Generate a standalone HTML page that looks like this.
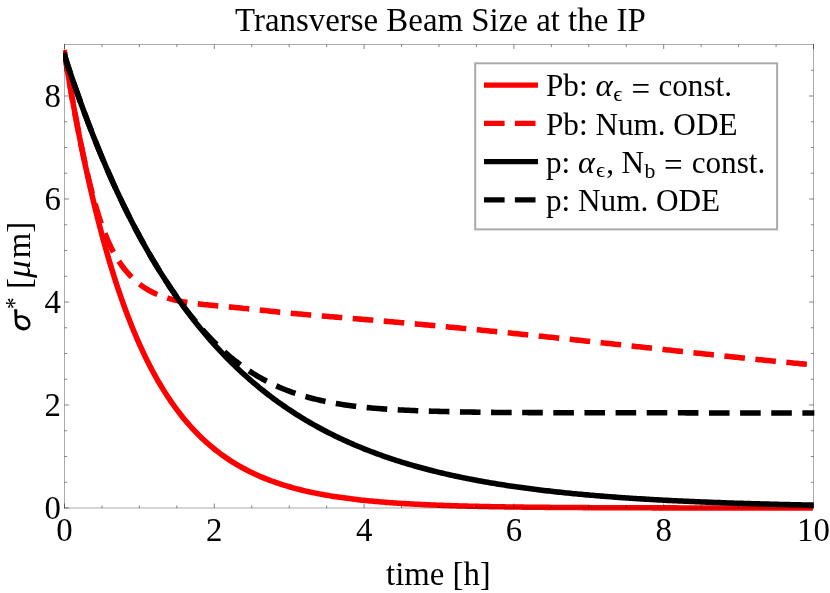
<!DOCTYPE html>
<html><head><meta charset="utf-8"><title>Transverse Beam Size at the IP</title>
<style>
html,body{margin:0;padding:0;background:#fff;}
body{width:830px;height:593px;overflow:hidden;font-family:"Liberation Serif",serif;}
svg{display:block;will-change:transform;}
text{font-family:"Liberation Serif",serif;fill:#000;}
</style></head><body>
<svg width="830" height="593" viewBox="0 0 830 593">
<rect x="0" y="0" width="830" height="593" fill="#fff"/>
<defs><clipPath id="pc"><rect x="63.1" y="40" width="751.6" height="475"/></clipPath></defs>
<!-- curves -->
<g fill="none" stroke-width="5.55" stroke-linejoin="round" clip-path="url(#pc)">
<path d="M64.05,50.07 L64.50,52.81 L66.37,64.29 L68.25,75.48 L70.12,86.38 L71.99,97.01 L73.86,107.37 L75.73,117.48 L77.61,127.32 L79.48,136.92 L81.35,146.28 L83.22,155.40 L85.10,164.29 L86.97,172.95 L88.84,181.40 L90.72,189.63 L92.59,197.66 L94.46,205.49 L96.33,213.11 L98.21,220.55 L100.08,227.80 L101.95,234.86 L103.82,241.75 L105.70,248.46 L107.57,255.00 L109.44,261.38 L111.31,267.60 L113.19,273.66 L115.06,279.57 L116.93,285.33 L118.80,290.94 L120.68,296.42 L122.55,301.75 L124.42,306.95 L126.29,312.02 L128.17,316.96 L130.04,321.78 L131.91,326.47 L133.78,331.05 L135.66,335.51 L137.53,339.86 L139.40,344.10 L141.27,348.23 L143.15,352.26 L145.02,356.19 L146.89,360.01 L148.76,363.75 L150.64,367.38 L152.51,370.93 L154.38,374.38 L156.25,377.75 L158.12,381.04 L160.00,384.24 L161.87,387.36 L163.74,390.40 L165.62,393.37 L167.49,396.26 L169.36,399.07 L171.23,401.82 L173.11,404.50 L174.98,407.11 L176.85,409.65 L178.72,412.13 L180.60,414.55 L182.47,416.90 L184.34,419.20 L186.21,421.44 L188.09,423.62 L189.96,425.75 L191.83,427.82 L193.70,429.84 L195.58,431.81 L197.45,433.74 L199.32,435.61 L201.19,437.43 L203.07,439.21 L204.94,440.95 L206.81,442.64 L208.68,444.29 L210.56,445.89 L212.43,447.46 L214.30,448.98 L216.17,450.47 L218.05,451.92 L219.92,453.34 L221.79,454.71 L223.66,456.06 L225.53,457.37 L227.41,458.64 L229.28,459.89 L231.15,461.10 L233.03,462.28 L234.90,463.44 L236.77,464.56 L238.64,465.66 L240.52,466.72 L242.39,467.76 L244.26,468.78 L246.13,469.77 L248.01,470.73 L249.88,471.67 L251.75,472.59 L253.62,473.48 L255.50,474.35 L257.37,475.20 L259.24,476.03 L261.11,476.83 L262.99,477.62 L264.86,478.38 L266.73,479.13 L268.60,479.86 L270.48,480.57 L272.35,481.26 L274.22,481.93 L276.09,482.59 L277.97,483.23 L279.84,483.86 L281.71,484.46 L283.58,485.06 L285.46,485.64 L287.33,486.20 L289.20,486.75 L291.07,487.29 L292.95,487.81 L294.82,488.32 L296.69,488.81 L298.56,489.30 L300.44,489.77 L302.31,490.23 L304.18,490.68 L306.05,491.11 L307.93,491.54 L309.80,491.95 L311.67,492.36 L313.54,492.75 L315.42,493.14 L317.29,493.51 L319.16,493.88 L321.03,494.23 L322.91,494.58 L324.78,494.92 L326.65,495.25 L328.52,495.57 L330.40,495.88 L332.27,496.19 L334.14,496.49 L336.01,496.78 L337.89,497.06 L339.76,497.34 L341.63,497.60 L343.50,497.87 L345.38,498.12 L347.25,498.37 L349.12,498.61 L350.99,498.85 L352.87,499.08 L354.74,499.31 L356.61,499.53 L358.48,499.74 L360.36,499.95 L362.23,500.15 L364.10,500.35 L365.97,500.54 L367.85,500.73 L369.72,500.91 L371.59,501.09 L373.46,501.27 L375.34,501.44 L377.21,501.60 L379.08,501.76 L380.95,501.92 L382.83,502.07 L384.70,502.22 L386.57,502.37 L388.44,502.51 L390.32,502.65 L392.19,502.78 L394.06,502.91 L395.93,503.04 L397.81,503.17 L399.68,503.29 L401.55,503.41 L403.42,503.52 L405.30,503.64 L407.17,503.75 L409.04,503.85 L410.91,503.96 L412.79,504.06 L414.66,504.16 L416.53,504.26 L418.40,504.35 L420.28,504.44 L422.15,504.53 L424.02,504.62 L425.89,504.71 L427.77,504.79 L429.64,504.87 L431.51,504.95 L433.38,505.03 L435.26,505.10 L437.13,505.17 L439.00,505.24 L440.87,505.31 L442.75,505.38 L444.62,505.45 L446.49,505.51 L448.36,505.58 L450.24,505.64 L452.11,505.70 L453.98,505.75 L455.85,505.81 L457.73,505.87 L459.60,505.92 L461.47,505.97 L463.34,506.02 L465.22,506.07 L467.09,506.12 L468.96,506.17 L470.83,506.22 L472.71,506.26 L474.58,506.30 L476.45,506.35 L478.32,506.39 L480.20,506.43 L482.07,506.47 L483.94,506.51 L485.81,506.54 L487.69,506.58 L489.56,506.62 L491.43,506.65 L493.30,506.69 L495.18,506.72 L497.05,506.75 L498.92,506.78 L500.79,506.81 L502.67,506.84 L504.54,506.87 L506.41,506.90 L508.28,506.93 L510.16,506.96 L512.03,506.98 L513.90,507.01 L515.77,507.03 L517.65,507.06 L519.52,507.08 L521.39,507.10 L523.26,507.13 L525.13,507.15 L527.01,507.17 L528.88,507.19 L530.75,507.21 L532.62,507.23 L534.50,507.25 L536.37,507.27 L538.24,507.29 L540.12,507.31 L541.99,507.32 L543.86,507.34 L545.73,507.36 L547.61,507.37 L549.48,507.39 L551.35,507.40 L553.22,507.42 L555.10,507.43 L556.97,507.45 L558.84,507.46 L560.71,507.48 L562.59,507.49 L564.46,507.50 L566.33,507.51 L568.20,507.53 L570.08,507.54 L571.95,507.55 L573.82,507.56 L575.69,507.57 L577.57,507.58 L579.44,507.59 L581.31,507.60 L583.18,507.61 L585.06,507.62 L586.93,507.63 L588.80,507.64 L590.67,507.65 L592.55,507.66 L594.42,507.67 L596.29,507.68 L598.16,507.69 L600.04,507.69 L601.91,507.70 L603.78,507.71 L605.65,507.72 L607.53,507.72 L609.40,507.73 L611.27,507.74 L613.14,507.74 L615.02,507.75 L616.89,507.76 L618.76,507.76 L620.63,507.77 L622.51,507.77 L624.38,507.78 L626.25,507.79 L628.12,507.79 L630.00,507.80 L631.87,507.80 L633.74,507.81 L635.61,507.81 L637.49,507.82 L639.36,507.82 L641.23,507.83 L643.10,507.83 L644.98,507.83 L646.85,507.84 L648.72,507.84 L650.59,507.85 L652.47,507.85 L654.34,507.85 L656.21,507.86 L658.08,507.86 L659.96,507.86 L661.83,507.87 L663.70,507.87 L665.57,507.87 L667.45,507.88 L669.32,507.88 L671.19,507.88 L673.06,507.89 L674.94,507.89 L676.81,507.89 L678.68,507.90 L680.55,507.90 L682.43,507.90 L684.30,507.90 L686.17,507.91 L688.04,507.91 L689.92,507.91 L691.79,507.91 L693.66,507.91 L695.53,507.92 L697.41,507.92 L699.28,507.92 L701.15,507.92 L703.02,507.92 L704.90,507.93 L706.77,507.93 L708.64,507.93 L710.51,507.93 L712.39,507.93 L714.26,507.94 L716.13,507.94 L718.00,507.94 L719.88,507.94 L721.75,507.94 L723.62,507.94 L725.49,507.94 L727.37,507.95 L729.24,507.95 L731.11,507.95 L732.98,507.95 L734.86,507.95 L736.73,507.95 L738.60,507.95 L740.47,507.95 L742.35,507.96 L744.22,507.96 L746.09,507.96 L747.96,507.96 L749.84,507.96 L751.71,507.96 L753.58,507.96 L755.45,507.96 L757.33,507.96 L759.20,507.97 L761.07,507.97 L762.94,507.97 L764.82,507.97 L766.69,507.97 L768.56,507.97 L770.43,507.97 L772.31,507.97 L774.18,507.97 L776.05,507.97 L777.92,507.97 L779.80,507.97 L781.67,507.97 L783.54,507.97 L785.41,507.98 L787.29,507.98 L789.16,507.98 L791.03,507.98 L792.90,507.98 L794.78,507.98 L796.65,507.98 L798.52,507.98 L800.39,507.98 L802.27,507.98 L804.14,507.98 L806.01,507.98 L807.88,507.98 L809.76,507.98 L811.63,507.98 L812.90,507.98" stroke="#ff0000"/>
<path d="M64.05,50.07 L64.50,52.81 L66.37,64.26 L68.25,75.44 L70.12,86.35 L71.99,97.00 L73.86,107.37 L75.73,117.48 L77.61,127.31 L79.48,136.85 L81.35,146.09 L83.22,155.03 L85.10,163.66 L86.97,171.96 L88.84,179.92 L90.72,187.52 L92.59,194.74 L94.46,201.60 L96.33,208.09 L98.21,214.23 L100.08,220.01 L101.95,225.46 L103.82,230.58 L105.70,235.38 L107.57,239.87 L109.44,244.06 L111.31,247.98 L113.19,251.63 L115.06,255.04 L116.93,258.21 L118.80,261.17 L120.68,263.93 L122.55,266.52 L124.42,268.95 L126.29,271.25 L128.17,273.41 L130.04,275.45 L131.91,277.37 L133.78,279.18 L135.66,280.88 L137.53,282.49 L139.40,283.99 L141.27,285.40 L143.15,286.73 L145.02,287.98 L146.89,289.15 L148.76,290.25 L150.64,291.28 L152.51,292.24 L154.38,293.15 L156.25,294.00 L158.12,294.79 L160.00,295.54 L161.87,296.24 L163.74,296.90 L165.62,297.51 L167.49,298.09 L169.36,298.63 L171.23,299.14 L173.11,299.62 L174.98,300.08 L176.85,300.50 L178.72,300.90 L180.60,301.27 L182.47,301.63 L184.34,301.96 L186.21,302.27 L188.09,302.57 L189.96,302.85 L191.83,303.11 L193.70,303.36 L195.58,303.60 L197.45,303.83 L199.32,304.04 L201.19,304.25 L203.07,304.45 L204.94,304.65 L206.81,304.84 L208.68,305.02 L210.56,305.20 L212.43,305.38 L214.30,305.56 L216.17,305.73 L218.05,305.91 L219.92,306.08 L221.79,306.25 L223.66,306.42 L225.53,306.60 L227.41,306.77 L229.28,306.95 L231.15,307.12 L233.03,307.30 L234.90,307.48 L236.77,307.66 L238.64,307.84 L240.52,308.03 L242.39,308.21 L244.26,308.40 L246.13,308.59 L248.01,308.78 L249.88,308.98 L251.75,309.17 L253.62,309.37 L255.50,309.57 L257.37,309.77 L259.24,309.97 L261.11,310.17 L262.99,310.37 L264.86,310.57 L266.73,310.77 L268.60,310.97 L270.48,311.17 L272.35,311.37 L274.22,311.57 L276.09,311.76 L277.97,311.96 L279.84,312.15 L281.71,312.34 L283.58,312.52 L285.46,312.70 L287.33,312.89 L289.20,313.06 L291.07,313.24 L292.95,313.41 L294.82,313.59 L296.69,313.76 L298.56,313.93 L300.44,314.10 L302.31,314.26 L304.18,314.43 L306.05,314.59 L307.93,314.75 L309.80,314.92 L311.67,315.08 L313.54,315.24 L315.42,315.40 L317.29,315.56 L319.16,315.71 L321.03,315.87 L322.91,316.03 L324.78,316.19 L326.65,316.34 L328.52,316.50 L330.40,316.65 L332.27,316.81 L334.14,316.97 L336.01,317.12 L337.89,317.28 L339.76,317.43 L341.63,317.59 L343.50,317.74 L345.38,317.90 L347.25,318.05 L349.12,318.21 L350.99,318.36 L352.87,318.52 L354.74,318.68 L356.61,318.83 L358.48,318.99 L360.36,319.14 L362.23,319.30 L364.10,319.46 L365.97,319.62 L367.85,319.77 L369.72,319.93 L371.59,320.09 L373.46,320.25 L375.34,320.41 L377.21,320.57 L379.08,320.73 L380.95,320.89 L382.83,321.05 L384.70,321.21 L386.57,321.37 L388.44,321.53 L390.32,321.69 L392.19,321.86 L394.06,322.02 L395.93,322.18 L397.81,322.35 L399.68,322.51 L401.55,322.68 L403.42,322.84 L405.30,323.01 L407.17,323.18 L409.04,323.34 L410.91,323.51 L412.79,323.68 L414.66,323.85 L416.53,324.01 L418.40,324.18 L420.28,324.35 L422.15,324.52 L424.02,324.69 L425.89,324.87 L427.77,325.04 L429.64,325.21 L431.51,325.38 L433.38,325.56 L435.26,325.73 L437.13,325.90 L439.00,326.08 L440.87,326.25 L442.75,326.43 L444.62,326.61 L446.49,326.78 L448.36,326.96 L450.24,327.14 L452.11,327.31 L453.98,327.49 L455.85,327.67 L457.73,327.85 L459.60,328.03 L461.47,328.21 L463.34,328.39 L465.22,328.57 L467.09,328.75 L468.96,328.94 L470.83,329.12 L472.71,329.30 L474.58,329.49 L476.45,329.67 L478.32,329.85 L480.20,330.04 L482.07,330.22 L483.94,330.41 L485.81,330.59 L487.69,330.78 L489.56,330.97 L491.43,331.16 L493.30,331.34 L495.18,331.53 L497.05,331.72 L498.92,331.91 L500.79,332.10 L502.67,332.29 L504.54,332.48 L506.41,332.67 L508.28,332.86 L510.16,333.05 L512.03,333.24 L513.90,333.43 L515.77,333.62 L517.65,333.82 L519.52,334.01 L521.39,334.20 L523.26,334.40 L525.13,334.59 L527.01,334.78 L528.88,334.98 L530.75,335.17 L532.62,335.37 L534.50,335.56 L536.37,335.76 L538.24,335.95 L540.12,336.15 L541.99,336.35 L543.86,336.54 L545.73,336.74 L547.61,336.94 L549.48,337.14 L551.35,337.33 L553.22,337.53 L555.10,337.73 L556.97,337.93 L558.84,338.13 L560.71,338.33 L562.59,338.53 L564.46,338.73 L566.33,338.93 L568.20,339.13 L570.08,339.33 L571.95,339.53 L573.82,339.73 L575.69,339.93 L577.57,340.13 L579.44,340.33 L581.31,340.53 L583.18,340.73 L585.06,340.94 L586.93,341.14 L588.80,341.34 L590.67,341.54 L592.55,341.75 L594.42,341.95 L596.29,342.15 L598.16,342.35 L600.04,342.56 L601.91,342.76 L603.78,342.96 L605.65,343.17 L607.53,343.37 L609.40,343.57 L611.27,343.78 L613.14,343.98 L615.02,344.19 L616.89,344.39 L618.76,344.59 L620.63,344.80 L622.51,345.00 L624.38,345.21 L626.25,345.41 L628.12,345.62 L630.00,345.82 L631.87,346.02 L633.74,346.23 L635.61,346.43 L637.49,346.64 L639.36,346.84 L641.23,347.05 L643.10,347.25 L644.98,347.46 L646.85,347.66 L648.72,347.86 L650.59,348.07 L652.47,348.27 L654.34,348.48 L656.21,348.68 L658.08,348.89 L659.96,349.09 L661.83,349.29 L663.70,349.50 L665.57,349.70 L667.45,349.91 L669.32,350.11 L671.19,350.31 L673.06,350.52 L674.94,350.72 L676.81,350.92 L678.68,351.13 L680.55,351.33 L682.43,351.53 L684.30,351.74 L686.17,351.94 L688.04,352.14 L689.92,352.34 L691.79,352.55 L693.66,352.75 L695.53,352.95 L697.41,353.15 L699.28,353.35 L701.15,353.55 L703.02,353.75 L704.90,353.95 L706.77,354.15 L708.64,354.35 L710.51,354.55 L712.39,354.75 L714.26,354.95 L716.13,355.15 L718.00,355.35 L719.88,355.55 L721.75,355.75 L723.62,355.95 L725.49,356.14 L727.37,356.34 L729.24,356.54 L731.11,356.73 L732.98,356.93 L734.86,357.13 L736.73,357.32 L738.60,357.52 L740.47,357.71 L742.35,357.91 L744.22,358.10 L746.09,358.29 L747.96,358.49 L749.84,358.68 L751.71,358.87 L753.58,359.06 L755.45,359.25 L757.33,359.44 L759.20,359.64 L761.07,359.83 L762.94,360.01 L764.82,360.20 L766.69,360.39 L768.56,360.58 L770.43,360.77 L772.31,360.95 L774.18,361.14 L776.05,361.33 L777.92,361.51 L779.80,361.70 L781.67,361.88 L783.54,362.07 L785.41,362.25 L787.29,362.43 L789.16,362.61 L791.03,362.79 L792.90,362.97 L794.78,363.15 L796.65,363.33 L798.52,363.51 L800.39,363.69 L802.27,363.87 L804.14,364.04 L806.01,364.22 L807.88,364.40 L809.76,364.57 L811.63,364.74 L813.50,364.92" stroke="#ff0000" stroke-dasharray="20.6 10.53" stroke-dashoffset="-1.3"/>
<path d="M63.64,52.75 L64.50,55.39 L66.37,61.12 L68.25,66.79 L70.12,72.37 L71.99,77.89 L73.86,83.34 L75.73,88.72 L77.61,94.03 L79.48,99.27 L81.35,104.45 L83.22,109.56 L85.10,114.61 L86.97,119.59 L88.84,124.51 L90.72,129.36 L92.59,134.16 L94.46,138.89 L96.33,143.56 L98.21,148.18 L100.08,152.73 L101.95,157.23 L103.82,161.67 L105.70,166.05 L107.57,170.38 L109.44,174.66 L111.31,178.88 L113.19,183.04 L115.06,187.15 L116.93,191.22 L118.80,195.22 L120.68,199.18 L122.55,203.09 L124.42,206.95 L126.29,210.76 L128.17,214.52 L130.04,218.23 L131.91,221.90 L133.78,225.52 L135.66,229.09 L137.53,232.62 L139.40,236.11 L141.27,239.55 L143.15,242.94 L145.02,246.29 L146.89,249.60 L148.76,252.87 L150.64,256.10 L152.51,259.29 L154.38,262.43 L156.25,265.54 L158.12,268.60 L160.00,271.63 L161.87,274.62 L163.74,277.57 L165.62,280.49 L167.49,283.36 L169.36,286.20 L171.23,289.01 L173.11,291.78 L174.98,294.51 L176.85,297.21 L178.72,299.87 L180.60,302.50 L182.47,305.10 L184.34,307.67 L186.21,310.20 L188.09,312.70 L189.96,315.17 L191.83,317.60 L193.70,320.01 L195.58,322.39 L197.45,324.73 L199.32,327.05 L201.19,329.33 L203.07,331.59 L204.94,333.82 L206.81,336.02 L208.68,338.20 L210.56,340.34 L212.43,342.46 L214.30,344.55 L216.17,346.61 L218.05,348.65 L219.92,350.67 L221.79,352.65 L223.66,354.62 L225.53,356.55 L227.41,358.47 L229.28,360.36 L231.15,362.22 L233.03,364.06 L234.90,365.88 L236.77,367.67 L238.64,369.45 L240.52,371.19 L242.39,372.92 L244.26,374.63 L246.13,376.31 L248.01,377.97 L249.88,379.62 L251.75,381.24 L253.62,382.84 L255.50,384.42 L257.37,385.98 L259.24,387.52 L261.11,389.04 L262.99,390.54 L264.86,392.02 L266.73,393.49 L268.60,394.93 L270.48,396.36 L272.35,397.77 L274.22,399.16 L276.09,400.53 L277.97,401.89 L279.84,403.23 L281.71,404.55 L283.58,405.85 L285.46,407.14 L287.33,408.42 L289.20,409.67 L291.07,410.91 L292.95,412.14 L294.82,413.35 L296.69,414.54 L298.56,415.72 L300.44,416.88 L302.31,418.03 L304.18,419.17 L306.05,420.29 L307.93,421.39 L309.80,422.49 L311.67,423.56 L313.54,424.63 L315.42,425.68 L317.29,426.72 L319.16,427.74 L321.03,428.76 L322.91,429.75 L324.78,430.74 L326.65,431.71 L328.52,432.68 L330.40,433.63 L332.27,434.56 L334.14,435.49 L336.01,436.40 L337.89,437.31 L339.76,438.20 L341.63,439.08 L343.50,439.95 L345.38,440.80 L347.25,441.65 L349.12,442.49 L350.99,443.31 L352.87,444.13 L354.74,444.93 L356.61,445.73 L358.48,446.51 L360.36,447.29 L362.23,448.05 L364.10,448.81 L365.97,449.55 L367.85,450.29 L369.72,451.01 L371.59,451.73 L373.46,452.44 L375.34,453.14 L377.21,453.83 L379.08,454.51 L380.95,455.19 L382.83,455.85 L384.70,456.51 L386.57,457.16 L388.44,457.80 L390.32,458.43 L392.19,459.05 L394.06,459.67 L395.93,460.28 L397.81,460.88 L399.68,461.47 L401.55,462.06 L403.42,462.64 L405.30,463.21 L407.17,463.77 L409.04,464.33 L410.91,464.88 L412.79,465.42 L414.66,465.96 L416.53,466.49 L418.40,467.01 L420.28,467.53 L422.15,468.03 L424.02,468.54 L425.89,469.03 L427.77,469.52 L429.64,470.01 L431.51,470.49 L433.38,470.96 L435.26,471.42 L437.13,471.88 L439.00,472.34 L440.87,472.79 L442.75,473.23 L444.62,473.67 L446.49,474.10 L448.36,474.53 L450.24,474.95 L452.11,475.36 L453.98,475.77 L455.85,476.18 L457.73,476.58 L459.60,476.97 L461.47,477.36 L463.34,477.75 L465.22,478.13 L467.09,478.51 L468.96,478.88 L470.83,479.24 L472.71,479.60 L474.58,479.96 L476.45,480.31 L478.32,480.66 L480.20,481.01 L482.07,481.35 L483.94,481.68 L485.81,482.01 L487.69,482.34 L489.56,482.66 L491.43,482.98 L493.30,483.29 L495.18,483.60 L497.05,483.91 L498.92,484.21 L500.79,484.51 L502.67,484.81 L504.54,485.10 L506.41,485.39 L508.28,485.67 L510.16,485.95 L512.03,486.23 L513.90,486.50 L515.77,486.77 L517.65,487.04 L519.52,487.30 L521.39,487.56 L523.26,487.82 L525.13,488.07 L527.01,488.32 L528.88,488.57 L530.75,488.81 L532.62,489.05 L534.50,489.29 L536.37,489.53 L538.24,489.76 L540.12,489.99 L541.99,490.21 L543.86,490.44 L545.73,490.66 L547.61,490.88 L549.48,491.09 L551.35,491.30 L553.22,491.51 L555.10,491.72 L556.97,491.92 L558.84,492.13 L560.71,492.33 L562.59,492.52 L564.46,492.72 L566.33,492.91 L568.20,493.10 L570.08,493.28 L571.95,493.47 L573.82,493.65 L575.69,493.83 L577.57,494.01 L579.44,494.18 L581.31,494.36 L583.18,494.53 L585.06,494.70 L586.93,494.87 L588.80,495.03 L590.67,495.19 L592.55,495.35 L594.42,495.51 L596.29,495.67 L598.16,495.82 L600.04,495.98 L601.91,496.13 L603.78,496.28 L605.65,496.42 L607.53,496.57 L609.40,496.71 L611.27,496.85 L613.14,496.99 L615.02,497.13 L616.89,497.27 L618.76,497.40 L620.63,497.53 L622.51,497.67 L624.38,497.80 L626.25,497.92 L628.12,498.05 L630.00,498.17 L631.87,498.30 L633.74,498.42 L635.61,498.54 L637.49,498.66 L639.36,498.78 L641.23,498.89 L643.10,499.00 L644.98,499.12 L646.85,499.23 L648.72,499.34 L650.59,499.45 L652.47,499.55 L654.34,499.66 L656.21,499.76 L658.08,499.87 L659.96,499.97 L661.83,500.07 L663.70,500.17 L665.57,500.27 L667.45,500.36 L669.32,500.46 L671.19,500.55 L673.06,500.65 L674.94,500.74 L676.81,500.83 L678.68,500.92 L680.55,501.01 L682.43,501.10 L684.30,501.18 L686.17,501.27 L688.04,501.35 L689.92,501.44 L691.79,501.52 L693.66,501.60 L695.53,501.68 L697.41,501.76 L699.28,501.84 L701.15,501.91 L703.02,501.99 L704.90,502.07 L706.77,502.14 L708.64,502.21 L710.51,502.29 L712.39,502.36 L714.26,502.43 L716.13,502.50 L718.00,502.57 L719.88,502.63 L721.75,502.70 L723.62,502.77 L725.49,502.83 L727.37,502.90 L729.24,502.96 L731.11,503.03 L732.98,503.09 L734.86,503.15 L736.73,503.21 L738.60,503.27 L740.47,503.33 L742.35,503.39 L744.22,503.44 L746.09,503.50 L747.96,503.56 L749.84,503.61 L751.71,503.67 L753.58,503.72 L755.45,503.78 L757.33,503.83 L759.20,503.88 L761.07,503.93 L762.94,503.98 L764.82,504.03 L766.69,504.08 L768.56,504.13 L770.43,504.18 L772.31,504.23 L774.18,504.28 L776.05,504.32 L777.92,504.37 L779.80,504.41 L781.67,504.46 L783.54,504.50 L785.41,504.55 L787.29,504.59 L789.16,504.63 L791.03,504.67 L792.90,504.72 L794.78,504.76 L796.65,504.80 L798.52,504.84 L800.39,504.88 L802.27,504.92 L804.14,504.95 L806.01,504.99 L807.88,505.03 L809.76,505.07 L811.63,505.10 L813.50,505.14 L813.70,505.14" stroke="#000"/>
<path d="M63.64,52.75 L64.50,55.39 L66.37,61.12 L68.25,66.79 L70.12,72.37 L71.99,77.89 L73.86,83.33 L75.73,88.71 L77.61,94.02 L79.48,99.26 L81.35,104.43 L83.22,109.54 L85.10,114.59 L86.97,119.57 L88.84,124.49 L90.72,129.34 L92.59,134.14 L94.46,138.87 L96.33,143.54 L98.21,148.16 L100.08,152.72 L101.95,157.21 L103.82,161.66 L105.70,166.04 L107.57,170.37 L109.44,174.65 L111.31,178.87 L113.19,183.04 L115.06,187.15 L116.93,191.22 L118.80,195.22 L120.68,199.18 L122.55,203.09 L124.42,206.95 L126.29,210.76 L128.17,214.52 L130.04,218.23 L131.91,221.90 L133.78,225.52 L135.66,229.09 L137.53,232.62 L139.40,236.11 L141.27,239.55 L143.15,242.94 L145.02,246.29 L146.89,249.60 L148.76,252.87 L150.64,256.10 L152.51,259.29 L154.38,262.43 L156.25,265.54 L158.12,268.60 L160.00,271.63 L161.87,274.62 L163.74,277.56 L165.62,280.46 L167.49,283.33 L169.36,286.15 L171.23,288.94 L173.11,291.69 L174.98,294.40 L176.85,297.07 L178.72,299.70 L180.60,302.29 L182.47,304.84 L184.34,307.36 L186.21,309.83 L188.09,312.27 L189.96,314.66 L191.83,317.02 L193.70,319.34 L195.58,321.62 L197.45,323.85 L199.32,326.05 L201.19,328.21 L203.07,330.33 L204.94,332.41 L206.81,334.45 L208.68,336.45 L210.56,338.41 L212.43,340.34 L214.30,342.23 L216.17,344.07 L218.05,345.89 L219.92,347.66 L221.79,349.40 L223.66,351.11 L225.53,352.77 L227.41,354.41 L229.28,356.00 L231.15,357.56 L233.03,359.09 L234.90,360.59 L236.77,362.05 L238.64,363.48 L240.52,364.87 L242.39,366.24 L244.26,367.57 L246.13,368.87 L248.01,370.14 L249.88,371.38 L251.75,372.59 L253.62,373.77 L255.50,374.92 L257.37,376.05 L259.24,377.14 L261.11,378.21 L262.99,379.25 L264.86,380.26 L266.73,381.25 L268.60,382.21 L270.48,383.15 L272.35,384.06 L274.22,384.94 L276.09,385.80 L277.97,386.64 L279.84,387.45 L281.71,388.24 L283.58,389.01 L285.46,389.76 L287.33,390.49 L289.20,391.19 L291.07,391.87 L292.95,392.54 L294.82,393.18 L296.69,393.81 L298.56,394.42 L300.44,395.01 L302.31,395.58 L304.18,396.14 L306.05,396.68 L307.93,397.21 L309.80,397.72 L311.67,398.21 L313.54,398.70 L315.42,399.16 L317.29,399.61 L319.16,400.05 L321.03,400.48 L322.91,400.89 L324.78,401.29 L326.65,401.68 L328.52,402.05 L330.40,402.42 L332.27,402.77 L334.14,403.11 L336.01,403.44 L337.89,403.76 L339.76,404.07 L341.63,404.37 L343.50,404.65 L345.38,404.93 L347.25,405.20 L349.12,405.46 L350.99,405.72 L352.87,405.96 L354.74,406.19 L356.61,406.42 L358.48,406.64 L360.36,406.85 L362.23,407.06 L364.10,407.25 L365.97,407.44 L367.85,407.62 L369.72,407.80 L371.59,407.97 L373.46,408.14 L375.34,408.29 L377.21,408.45 L379.08,408.60 L380.95,408.74 L382.83,408.87 L384.70,409.01 L386.57,409.13 L388.44,409.26 L390.32,409.37 L392.19,409.49 L394.06,409.60 L395.93,409.70 L397.81,409.81 L399.68,409.91 L401.55,410.00 L403.42,410.09 L405.30,410.18 L407.17,410.27 L409.04,410.35 L410.91,410.43 L412.79,410.51 L414.66,410.58 L416.53,410.66 L418.40,410.73 L420.28,410.80 L422.15,410.86 L424.02,410.93 L425.89,410.99 L427.77,411.05 L429.64,411.11 L431.51,411.17 L433.38,411.22 L435.26,411.28 L437.13,411.33 L439.00,411.38 L440.87,411.43 L442.75,411.48 L444.62,411.53 L446.49,411.57 L448.36,411.62 L450.24,411.66 L452.11,411.71 L453.98,411.75 L455.85,411.79 L457.73,411.83 L459.60,411.87 L461.47,411.91 L463.34,411.94 L465.22,411.98 L467.09,412.01 L468.96,412.04 L470.83,412.08 L472.71,412.11 L474.58,412.14 L476.45,412.17 L478.32,412.20 L480.20,412.22 L482.07,412.25 L483.94,412.27 L485.81,412.30 L487.69,412.32 L489.56,412.34 L491.43,412.36 L493.30,412.38 L495.18,412.40 L497.05,412.42 L498.92,412.44 L500.79,412.45 L502.67,412.47 L504.54,412.48 L506.41,412.49 L508.28,412.51 L510.16,412.52 L512.03,412.53 L513.90,412.54 L515.77,412.55 L517.65,412.56 L519.52,412.57 L521.39,412.57 L523.26,412.58 L525.13,412.59 L527.01,412.60 L528.88,412.60 L530.75,412.61 L532.62,412.61 L534.50,412.62 L536.37,412.62 L538.24,412.63 L540.12,412.63 L541.99,412.64 L543.86,412.64 L545.73,412.64 L547.61,412.65 L549.48,412.65 L551.35,412.65 L553.22,412.65 L555.10,412.66 L556.97,412.66 L558.84,412.66 L560.71,412.66 L562.59,412.66 L564.46,412.66 L566.33,412.67 L568.20,412.67 L570.08,412.67 L571.95,412.67 L573.82,412.67 L575.69,412.67 L577.57,412.68 L579.44,412.68 L581.31,412.68 L583.18,412.68 L585.06,412.68 L586.93,412.68 L588.80,412.68 L590.67,412.68 L592.55,412.69 L594.42,412.69 L596.29,412.69 L598.16,412.69 L600.04,412.69 L601.91,412.69 L603.78,412.70 L605.65,412.70 L607.53,412.70 L609.40,412.70 L611.27,412.70 L613.14,412.71 L615.02,412.71 L616.89,412.71 L618.76,412.71 L620.63,412.71 L622.51,412.72 L624.38,412.72 L626.25,412.72 L628.12,412.73 L630.00,412.73 L631.87,412.73 L633.74,412.73 L635.61,412.74 L637.49,412.74 L639.36,412.74 L641.23,412.75 L643.10,412.75 L644.98,412.75 L646.85,412.76 L648.72,412.76 L650.59,412.77 L652.47,412.77 L654.34,412.77 L656.21,412.78 L658.08,412.78 L659.96,412.79 L661.83,412.79 L663.70,412.80 L665.57,412.80 L667.45,412.80 L669.32,412.81 L671.19,412.81 L673.06,412.82 L674.94,412.82 L676.81,412.83 L678.68,412.83 L680.55,412.84 L682.43,412.84 L684.30,412.85 L686.17,412.85 L688.04,412.86 L689.92,412.86 L691.79,412.87 L693.66,412.87 L695.53,412.88 L697.41,412.88 L699.28,412.89 L701.15,412.89 L703.02,412.90 L704.90,412.90 L706.77,412.91 L708.64,412.91 L710.51,412.92 L712.39,412.92 L714.26,412.93 L716.13,412.93 L718.00,412.93 L719.88,412.94 L721.75,412.94 L723.62,412.95 L725.49,412.95 L727.37,412.96 L729.24,412.96 L731.11,412.96 L732.98,412.97 L734.86,412.97 L736.73,412.98 L738.60,412.98 L740.47,412.98 L742.35,412.99 L744.22,412.99 L746.09,412.99 L747.96,412.99 L749.84,413.00 L751.71,413.00 L753.58,413.00 L755.45,413.00 L757.33,413.01 L759.20,413.01 L761.07,413.01 L762.94,413.01 L764.82,413.01 L766.69,413.01 L768.56,413.01 L770.43,413.01 L772.31,413.01 L774.18,413.01 L776.05,413.01 L777.92,413.01 L779.80,413.01 L781.67,413.01 L783.54,413.01 L785.41,413.01 L787.29,413.00 L789.16,413.00 L791.03,413.00 L792.90,412.99 L794.78,412.99 L796.65,412.99 L798.52,412.98 L800.39,412.98 L802.27,412.97 L804.14,412.97 L806.01,412.96 L807.88,412.96 L809.76,412.95 L811.63,412.94 L813.50,412.94 L814.50,412.93" stroke="#000" stroke-dasharray="20.6 10.53" stroke-dashoffset="-0.5"/>
</g>
<!-- frame -->
<g stroke="#000" stroke-opacity="0.33" stroke-width="1" fill="none">
<line x1="64.5" y1="44" x2="64.5" y2="508.50"/>
<line x1="813.5" y1="44" x2="813.5" y2="508.50"/>
<line x1="64" y1="44.5" x2="814" y2="44.5"/>
<line x1="64" y1="508.00" x2="814" y2="508.00"/>
</g>
<g stroke="#000" stroke-opacity="0.6" stroke-width="0.8" fill="none">
<line x1="64.50" y1="508.00" x2="64.50" y2="503.50"/>
<line x1="64.50" y1="44.5" x2="64.50" y2="49.00"/>
<line x1="101.95" y1="508.00" x2="101.95" y2="505.40"/>
<line x1="101.95" y1="44.5" x2="101.95" y2="47.10"/>
<line x1="139.40" y1="508.00" x2="139.40" y2="505.40"/>
<line x1="139.40" y1="44.5" x2="139.40" y2="47.10"/>
<line x1="176.85" y1="508.00" x2="176.85" y2="505.40"/>
<line x1="176.85" y1="44.5" x2="176.85" y2="47.10"/>
<line x1="214.30" y1="508.00" x2="214.30" y2="503.50"/>
<line x1="214.30" y1="44.5" x2="214.30" y2="49.00"/>
<line x1="251.75" y1="508.00" x2="251.75" y2="505.40"/>
<line x1="251.75" y1="44.5" x2="251.75" y2="47.10"/>
<line x1="289.20" y1="508.00" x2="289.20" y2="505.40"/>
<line x1="289.20" y1="44.5" x2="289.20" y2="47.10"/>
<line x1="326.65" y1="508.00" x2="326.65" y2="505.40"/>
<line x1="326.65" y1="44.5" x2="326.65" y2="47.10"/>
<line x1="364.10" y1="508.00" x2="364.10" y2="503.50"/>
<line x1="364.10" y1="44.5" x2="364.10" y2="49.00"/>
<line x1="401.55" y1="508.00" x2="401.55" y2="505.40"/>
<line x1="401.55" y1="44.5" x2="401.55" y2="47.10"/>
<line x1="439.00" y1="508.00" x2="439.00" y2="505.40"/>
<line x1="439.00" y1="44.5" x2="439.00" y2="47.10"/>
<line x1="476.45" y1="508.00" x2="476.45" y2="505.40"/>
<line x1="476.45" y1="44.5" x2="476.45" y2="47.10"/>
<line x1="513.90" y1="508.00" x2="513.90" y2="503.50"/>
<line x1="513.90" y1="44.5" x2="513.90" y2="49.00"/>
<line x1="551.35" y1="508.00" x2="551.35" y2="505.40"/>
<line x1="551.35" y1="44.5" x2="551.35" y2="47.10"/>
<line x1="588.80" y1="508.00" x2="588.80" y2="505.40"/>
<line x1="588.80" y1="44.5" x2="588.80" y2="47.10"/>
<line x1="626.25" y1="508.00" x2="626.25" y2="505.40"/>
<line x1="626.25" y1="44.5" x2="626.25" y2="47.10"/>
<line x1="663.70" y1="508.00" x2="663.70" y2="503.50"/>
<line x1="663.70" y1="44.5" x2="663.70" y2="49.00"/>
<line x1="701.15" y1="508.00" x2="701.15" y2="505.40"/>
<line x1="701.15" y1="44.5" x2="701.15" y2="47.10"/>
<line x1="738.60" y1="508.00" x2="738.60" y2="505.40"/>
<line x1="738.60" y1="44.5" x2="738.60" y2="47.10"/>
<line x1="776.05" y1="508.00" x2="776.05" y2="505.40"/>
<line x1="776.05" y1="44.5" x2="776.05" y2="47.10"/>
<line x1="813.50" y1="508.00" x2="813.50" y2="503.50"/>
<line x1="813.50" y1="44.5" x2="813.50" y2="49.00"/>
<line x1="64.5" y1="508.00" x2="69.00" y2="508.00"/>
<line x1="813.5" y1="508.00" x2="809.00" y2="508.00"/>
<line x1="64.5" y1="482.25" x2="67.10" y2="482.25"/>
<line x1="813.5" y1="482.25" x2="810.90" y2="482.25"/>
<line x1="64.5" y1="456.50" x2="67.10" y2="456.50"/>
<line x1="813.5" y1="456.50" x2="810.90" y2="456.50"/>
<line x1="64.5" y1="430.75" x2="67.10" y2="430.75"/>
<line x1="813.5" y1="430.75" x2="810.90" y2="430.75"/>
<line x1="64.5" y1="405.00" x2="69.00" y2="405.00"/>
<line x1="813.5" y1="405.00" x2="809.00" y2="405.00"/>
<line x1="64.5" y1="379.25" x2="67.10" y2="379.25"/>
<line x1="813.5" y1="379.25" x2="810.90" y2="379.25"/>
<line x1="64.5" y1="353.50" x2="67.10" y2="353.50"/>
<line x1="813.5" y1="353.50" x2="810.90" y2="353.50"/>
<line x1="64.5" y1="327.75" x2="67.10" y2="327.75"/>
<line x1="813.5" y1="327.75" x2="810.90" y2="327.75"/>
<line x1="64.5" y1="302.00" x2="69.00" y2="302.00"/>
<line x1="813.5" y1="302.00" x2="809.00" y2="302.00"/>
<line x1="64.5" y1="276.25" x2="67.10" y2="276.25"/>
<line x1="813.5" y1="276.25" x2="810.90" y2="276.25"/>
<line x1="64.5" y1="250.50" x2="67.10" y2="250.50"/>
<line x1="813.5" y1="250.50" x2="810.90" y2="250.50"/>
<line x1="64.5" y1="224.75" x2="67.10" y2="224.75"/>
<line x1="813.5" y1="224.75" x2="810.90" y2="224.75"/>
<line x1="64.5" y1="199.00" x2="69.00" y2="199.00"/>
<line x1="813.5" y1="199.00" x2="809.00" y2="199.00"/>
<line x1="64.5" y1="173.25" x2="67.10" y2="173.25"/>
<line x1="813.5" y1="173.25" x2="810.90" y2="173.25"/>
<line x1="64.5" y1="147.50" x2="67.10" y2="147.50"/>
<line x1="813.5" y1="147.50" x2="810.90" y2="147.50"/>
<line x1="64.5" y1="121.75" x2="67.10" y2="121.75"/>
<line x1="813.5" y1="121.75" x2="810.90" y2="121.75"/>
<line x1="64.5" y1="96.00" x2="69.00" y2="96.00"/>
<line x1="813.5" y1="96.00" x2="809.00" y2="96.00"/>
<line x1="64.5" y1="70.25" x2="67.10" y2="70.25"/>
<line x1="813.5" y1="70.25" x2="810.90" y2="70.25"/>
</g>
<!-- tick labels -->
<g font-size="32.8">
<text x="64.50" y="540.9" text-anchor="middle">0</text>
<text x="214.30" y="540.9" text-anchor="middle">2</text>
<text x="364.10" y="540.9" text-anchor="middle">4</text>
<text x="513.90" y="540.9" text-anchor="middle">6</text>
<text x="663.70" y="540.9" text-anchor="middle">8</text>
<text x="813.50" y="540.9" text-anchor="middle">10</text>
<text x="61" y="518.80" text-anchor="end">0</text>
<text x="61" y="415.80" text-anchor="end">2</text>
<text x="61" y="312.80" text-anchor="end">4</text>
<text x="61" y="209.80" text-anchor="end">6</text>
<text x="61" y="106.80" text-anchor="end">8</text>
<text x="440.4" y="31.3" text-anchor="middle" font-size="32.9">Transverse Beam Size at the IP</text>
<text x="438.4" y="584.7" text-anchor="middle">time [h]</text>
<path fill="#000" fill-rule="evenodd" d="M14.1,309.2 L17.3,309.2 L17.3,316 C19,315.2 21,315.1 23,315.4 C27.5,316.2 30.5,319.5 30.5,323.7 C30.5,327.5 27.5,330.4 23.6,330.4 C19.5,330.4 15,327.5 14.8,322.5 C14.6,319 14.4,313 14.1,309.2 Z M17.5,318.3 C19,317.6 21,317.5 22.5,317.9 C26,318.8 28.2,321.5 28.2,324.5 C28.2,326.5 26.5,327.3 24.4,327.2 C20.5,327 17.4,324.5 17.3,321.5 C17.25,320.3 17.3,319.2 17.5,318.3 Z"/>
<g transform="translate(29.5,330.5) rotate(-90)">
<text font-size="25" transform="translate(21.5,-6.8) scale(0.92,1)">*</text>
<text x="41.5" y="0">[</text>
<text x="52.5" y="0" font-style="italic" transform="translate(52.5,0) scale(1.08,1) translate(-52.5,0)">μ</text>
<text x="72.3" y="0">m]</text>
</g>
</g>
<!-- legend -->
<rect x="475.2" y="63.3" width="301.9" height="166.1" fill="#fff" stroke="#ababab" stroke-width="2"/>
<g fill="none" stroke-width="5.2">
<line x1="484" y1="85.2" x2="538" y2="85.2" stroke="#ff0000"/>
<line x1="484" y1="123.4" x2="538" y2="123.4" stroke="#ff0000" stroke-dasharray="20.6 10.3"/>
<line x1="484" y1="161.6" x2="538" y2="161.6" stroke="#000"/>
<line x1="484" y1="199.8" x2="538" y2="199.8" stroke="#000" stroke-dasharray="20.6 10.3"/>
</g>
<g font-size="31.2">
<text x="546" y="96.4">Pb:</text>
<text font-style="italic" transform="translate(595.4,96.4) scale(1.05,1)">α</text>
<text font-size="21.8" transform="translate(613.3,101.4) scale(1.04,1)">ϵ</text>
<text transform="translate(631.4,100.0) scale(1.06,1.08)">=</text>
<text x="658.4" y="96.4">const.</text>
<text x="546" y="134.6">Pb: Num. ODE</text>
<text x="546" y="172.79999999999998">p:</text>
<text font-style="italic" transform="translate(578.05,172.79999999999998) scale(1.03,1)">α</text>
<text font-size="21.8" transform="translate(596.1,177.4) scale(1.04,1)">ϵ</text>
<text x="606.2" y="172.79999999999998">,</text>
<text x="621.5" y="172.79999999999998">N</text>
<text x="644.6" y="177.79999999999998" font-size="21.8">b</text>
<text transform="translate(663.9,175.5) scale(1.06,1.08)">=</text>
<text x="691.7" y="172.79999999999998">const.</text>
<text x="546" y="211.0">p: Num. ODE</text>
</g>
</svg>
</body></html>
